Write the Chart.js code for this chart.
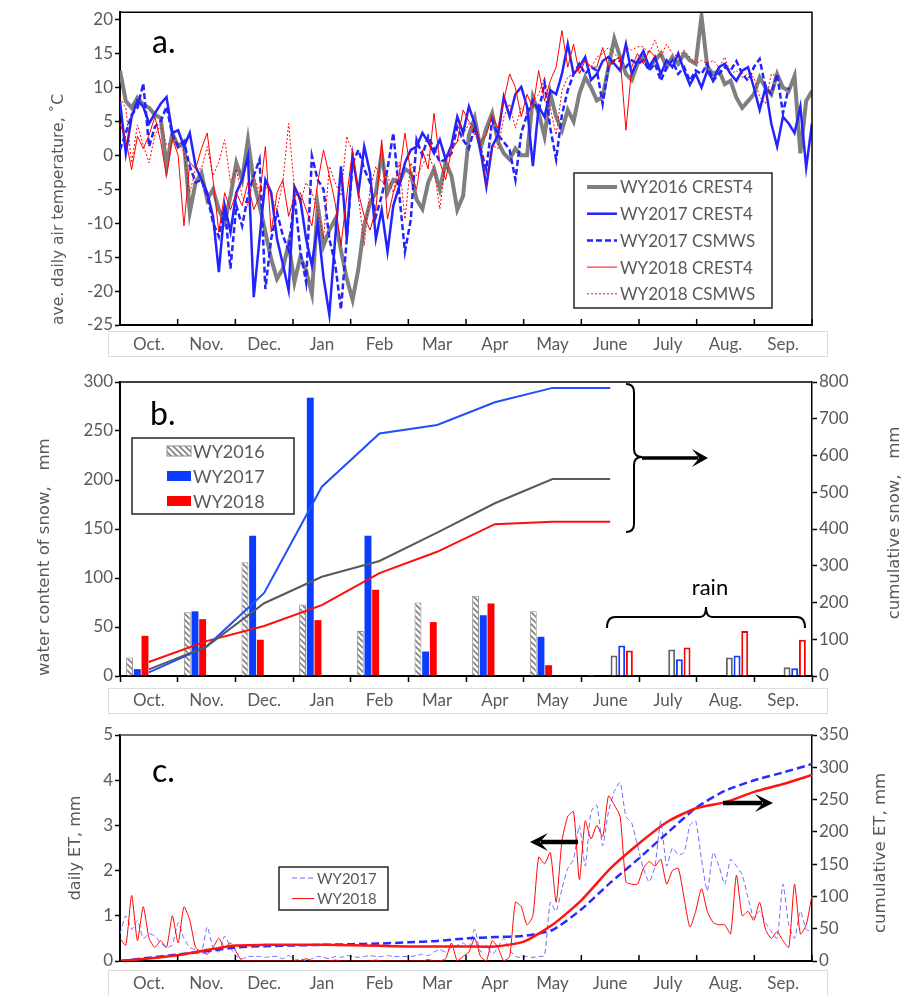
<!DOCTYPE html>
<html>
<head>
<meta charset="utf-8">
<script src="https://cdn.jsdelivr.net/npm/chart.js@4.4.1/dist/chart.umd.min.js"></script>
<style>
  body { margin: 0; background: #fff; }
  #wrap { position: relative; width: 906px; height: 996px; overflow: hidden; }
  #wrap canvas { position: absolute; left: 0; }
  .strip { position: absolute; border: 1px solid #dcdcdc; box-sizing: border-box; }
</style>
</head>
<body>
<div id="wrap">
  <div class="strip" style="left:108px;top:331px;width:720px;height:26px"></div>
  <div class="strip" style="left:108px;top:688px;width:720px;height:26px"></div>
  <div class="strip" style="left:108px;top:970px;width:720px;height:27px"></div>
  <canvas id="tempChart" width="906" height="357" style="top:0"></canvas>
  <canvas id="snowChart" width="906" height="356" style="top:357px"></canvas>
  <canvas id="etChart" width="906" height="283" style="top:713px"></canvas>
</div>
<script>
const months = ["Oct.", "Nov.", "Dec.", "Jan", "Feb", "Mar", "Apr", "May", "June", "July", "Aug.", "Sep."];

// panel a: ave. daily air temperature (10 readings per month)
const temp2016Crest4 = [
  12.5, 8, 7, 8.5, 7.5, 7, 6, 5.5, -1.6, 3.3,
  1.3, 2, -8.4, -4, -2.6, -6.5, -5, -8, -9.9, -6,
  -1.1, -3.6, 2.3, -4, -7.4, -11.3, -15.3, -18.2, -16.7, -13,
  -18.7, -15, -17, -20.4, -7.4, -13.3, -11, -9.4, -14, -18.2,
  -21.3, -16.7, -10.3, -7, -5.5, 0.3, -5.5, -3.6, -4, -2,
  -2.6, -6.5, -7.9, -4, -2, -5, -1, -3, -8, -6,
  3, 5.5, 1, 4, 6.2, 2, 0.3, -0.6, 1, 0,
  0, 8.6, 6.2, 2.8, 9.1, 5.7, 3.7, 6.7, 5, 9.1,
  11.5, 10, 8.1, 8.6, 13, 17.2, 14.5, 12, 11.1, 13.5,
  14.5, 13, 14, 15, 13, 14.5, 13.5, 15, 14, 13.5,
  20.5, 13, 12, 12.5, 10.5, 11, 8.5, 7, 8, 9,
  11.5, 10, 9, 12, 10, 9.5, 11.7, 0.3, 8, 9.5
];
const temp2017Crest4 = [
  8, 0.3, 5.7, 8.1, 7.2, 4.7, 6.2, 7.6, 8.6, 3.3,
  3.7, 1.3, 3.3, -1.6, -3.6, -5.5, -9, -17.2, -7.4, -11.3,
  -5.5, -3.6, -0.1, -20.9, -12.3, -3.6, -5.5, -12.3, -16, -19.9,
  -4.6, -6.5, -12.3, -16.2, -10, -18, -23.5, -12.3, -1.6, -12.3,
  -0.1, -5.5, 1.3, -2.6, -12.3, -8, -14.2, -7.4, -4.6, -1.1,
  0.8, 1.3, 3.3, 2, 0.3, 2.3, -0.6, 1.5, 5.7, 3.3,
  7.2, 4.7, 0.8, -4.6, 1.3, 3, 8.6, 5.7, 9, 10.1,
  7.2, -1.6, 7.2, 5.7, 9.6, 9, 12, 16.4, 12, 13,
  14.5, 11.1, 12, 13.9, 14.5, 13.5, 12.5, 16.4, 12, 13.9,
  15.4, 13, 14.5, 12, 14, 13, 15, 12.5, 10.4, 12,
  10, 12.5, 11, 13, 13.5, 12, 11, 12.5, 13, 10,
  6.7, 10, 4.7, 1.3, 5.7, 4.7, 3.3, 7.2, -1.8, 4.7
];
const temp2017Csmws = [
  0.8, 3.3, 6, 7, 10.6, 1.3, 4.2, 5, 7.2, 3,
  1.3, 2, -1.6, -4, -3.6, -6, -9.9, -12, -7.4, -16.7,
  -7.4, -10.4, -6, -3, -0.6, -19.7, -12.3, -8.4, -11.8, -14,
  -6, -14, -18.7, -0.1, -3.6, -5, -12.3, -16, -22.7, -12.3,
  -1.1, 0.8, -2, -4, -9, -6, -2, 3.3, -5.5, -14.2,
  -9.5, 2.3, 0, 2.8, 1, -1, -0.6, 0.3, 4.2, 2.3,
  1, 4.2, 1, -2.1, 5.2, 3, 2, 0.8, -3.6, 3.3,
  6, 8.1, 6.5, 10.6, 4, -0.6, 6, 9.6, 12, 13.5,
  12, 13, 12.5, 7.6, 13, 14, 13.9, 13, 14, 13.5,
  14, 12.5, 13.5, 11, 13, 14, 12, 13, 11, 12.5,
  12, 13.5, 11, 12, 13, 12.5, 13.9, 12, 11, 13,
  14.2, 10, 9.1, 12, 6.2, 10, null, null, null, null
];
const temp2018Crest4 = [
  4.7, 2.3, -2.1, 2.8, 1, 3, 5.7, 2, -3.1, 2.5,
  0, -10.4, -1, -2, 1, 3.3, -3.6, -11.3, -5.5, -8,
  -5.5, -7.4, -4, -8, -6, 1.3, -11.3, -5.5, -3.6, -9,
  -6, -5.5, -8, -10.4, -4, 0.8, -3, -7, -13.3, -6,
  0.8, -5.5, -9, -11, -8, 2.3, -9.4, -5.5, -3, 3.3,
  -2.6, -5, 0.8, -2, 6.2, -1, -3.6, 0.8, 2, 6.7,
  5, 4, 2, 3, 6, 4, 8.1, 12, 10, 5.7,
  9, 7, 12.5, 8, 11, 13, 18.4, 13, 16.4, 12,
  14, 13, 13, 15.9, 13, 14, 14.5, 3.7, 13, 15,
  13.5, 15.5, 14.5, null, null, null, null, null, null, null,
  null, null, null, null, null, null, null, null, null, null,
  null, null, null, null, null, null, null, null, null, null
];
const temp2018Csmws = [
  8.5, 7, -1.1, 4.5, 1.5, -1.1, 3, 4.5, 1.5, 2,
  2, 0.5, -5.5, -2, -2, 1.3, -3, -1, 2.3, -4,
  -2, -6, -7.4, -3, -5.5, -4.5, -6, -8, -4, 4.7,
  -5, -7, -4, -5.5, -8, -12.3, -1.6, -4, -6, 2.8,
  0.5, -6, -13.3, -5, -1.6, -4, -3, -5.5, -1, -9.4,
  -1.1, -3, -1.5, 0.3, -2, -7.9, -1.2, 1.3, 2, 3,
  4.7, 3, 2, -4.6, 1.5, 1, 5.7, 7.6, 4, 7,
  6, 8, 9, 11.5, 7, 3, 9.6, 11.5, 12, 13,
  14, 13, 14.5, 15, 15.9, 15, 14, 16, 15.5, 16,
  16, 15, 17, 14.5, 16.4, 15, 14.5, 15.5, 14.5, 13.5,
  14, 13.5, 14, 13, 14.5, 12, 12.5, 11.5, 12, 11.5,
  8.6, 7.6, 12, 11.7, null, null, null, null, null, null
];

// panel b: monthly water content of snow and rain (mm), cumulative snow (mm)
const snow2016 = [19, 65, 116, 73, 46, 75, 82, 66, 1, null, null, null];
const snow2017 = [7, 66, 143, 284, 143, 25, 62, 40, null, null, null, null];
const snow2018 = [41, 58, 37, 57, 88, 55, 74, 11, null, null, null, null];
const rain2016 = [null, null, null, null, null, null, null, null, 21, 27, 19, 9];
const rain2017 = [null, null, null, null, null, null, null, null, 31, 17, 21, 8];
const rain2018 = [null, null, null, null, null, null, null, null, 26, 29, 46, 37];
const cumSnow2016 = [18, 80, 198, 270, 313, 390, 470, 536, 536];
const cumSnow2017 = [10, 80, 226, 515, 660, 683, 745, 784, 784];
const cumSnow2018 = [38, 95, 136, 193, 280, 338, 413, 420, 420];

// panel c: daily ET (mm, 10 readings per month) and cumulative ET (mm, twice a month)
const et2017 = [
  0.6, 1.0, 0.7, 0.9, 0.5, 0.6, 0.55, 0.4, 0.3, 0.35,
  0.85, 0.5, 0.3, 0.25, 0.2, 0.75, 0.3, 0.2, 0.55, 0.3,
  0.1, 0.05, 0.1, 0.1, 0.1, 0.08, 0.1, 0.1, 0.05, 0.12,
  0.02, 0.05, 0, 0.05, 0.1, 0.08, 0.05, 0.1, 0.08, 0.12,
  0.1, 0.08, 0.1, 0.12, 0.1, 0.1, 0.12, 0.1, 0.1, 0.1,
  0.1, 0.12, 0.15, 0.12, 0.2, 0.25, 0.2, 0.3, 0.35, 0.4,
  0.3, 0.7, 0.2, 0.35, 0.15, 0.3, 0.5, 0.25, 0.1, 0.08,
  0.1, 0.08, 0.1, 0.12, 1.3, 1.1, 1.6, 2.05, 2.25, 3.0,
  2.1, 3.3, 3.45, 2.55, 3.3, 3.75, 3.95, 3.2, 3.05, 2.55,
  2.05, 1.75, 2.1, 3.1, 2.1, 2.5, 2.35, 2.4, 3.0, 3.1,
  2.25, 1.55, 2.4, 2.1, 1.7, 2.25, 2.1, 1.9, 1.4, 0.95,
  1.1, 0.85, 0.65, 0.5, 1.7, 0.8, 0.5, 1.1, 0.7, 0.65
];
const et2018 = [
  0.5, 0.35, 1.45, 0.45, 1.2, 0.5, 0.3, 0.45, 0.3, 1.0,
  0.4, 1.2, 0.9, 0.3, 0.2, 0.15, 0.3, 0.5, 0.3, 0.4,
  0.2, 0, 0, 0, 0, 0, 0, 0, 0, 0,
  0, 0, 0.05, 0, 0, 0, 0, 0.02, 0, 0,
  0, 0, 0, 0, 0.02, 0, 0, 0, 0, 0,
  0, 0, 0, 0.03, 0, 0, 0.05, 0.4, 0, 0.1,
  0.2, 0.5, 0.1, 0, 0.45, 0.3, 0, 0.1, 1.3, 1.2,
  0.8, 1.0, 2.3, 2.15, 2.4, 1.3, 2.65, 3.2, 3.3, 1.8,
  3.1, 2.7, 3.0, 2.75, 3.65, 3.45, 3.2, 1.75, 1.7, 1.7,
  2.05, 2.2, 2.1, 2.25, 1.7, 2.0, 2.05, 1.4, 0.75, 1.1,
  1.6, 1.1, 0.85, 0.8, 0.8, 0.6, 1.9, 1.0, 1.1, 0.9,
  1.3, 0.7, 0.5, 0.65, 0.45, 0.3, 1.7, 0.6, 0.8, 1.45
];
const cumEt2017 = [0, 5, 10, 15, 21, 23, 24, 25, 26, 27, 29, 31, 35, 37, 39, 48, 80, 121, 159, 199, 238, 264, 280, 292, 305];
const cumEt2018 = [0, 4, 9, 17, 24, 25, 25, 25, 24.5, 23.5, 22.5, 22.5, 22.5, 22.5, 30, 56, 94, 143, 182, 216, 237, 246, 262, 274, 288];

const tickFont = { family: "Lato, 'Open Sans', sans-serif", size: 17 };
const titleFamily = "'DejaVu Sans', Verdana, sans-serif";
const grayText = "#595959";

// spread the per-month readings over the 12 month slots of the x axis
const daily = arr => arr.map((v, i) => ({ x: i * 12 / (arr.length - 1), y: v }));
const halfMonth = arr => arr.map((v, i) => ({ x: i * 0.5, y: v }));

function monthAxis(height, pad) {
  return {
    type: "linear", min: 0, max: 12,
    afterBuildTicks: s => { s.ticks = months.map((m, i) => ({ value: i })).concat({ value: months.length }); },
    afterFit: s => { s.height = height; },
    ticks: { callback: v => months[v] || "", labelOffset: 28.8, padding: pad, autoSkip: false, maxRotation: 0, font: tickFont, color: grayText },
    grid: { drawOnChartArea: false, drawTicks: false },
    border: { display: true, color: "#000", width: 2 }
  };
}

function valueAxis(side, min, max, step, title) {
  return {
    position: side, min: min, max: max,
    afterBuildTicks: s => {
      const list = [];
      for (let v = Math.ceil(s.min / step) * step; v <= s.max + 1e-9; v += step) list.push({ value: v });
      s.ticks = list;
    },
    afterFit: s => { s.width = side === "left" ? 120 : 94; },
    ticks: { stepSize: step, font: tickFont, color: grayText, padding: 2 },
    grid: { drawOnChartArea: false, drawTicks: true, tickLength: 5, tickColor: "#000", tickWidth: 1.5 },
    border: { display: true, color: "#000", width: side === "left" ? 2 : 1.5 },
    title: title ? Object.assign({ display: true, color: grayText }, title) : { display: false }
  };
}

// vertical title read bottom-to-top, as on the right-hand axes of the figure
function sideTitle(id, text, x, shift, size) {
  return {
    id: id,
    afterDraw(chart) {
      const ctx = chart.ctx, a = chart.chartArea;
      ctx.save();
      ctx.translate(x, (a.top + a.bottom) / 2 + shift);
      ctx.rotate(-Math.PI / 2);
      ctx.font = size + "px " + titleFamily;
      ctx.fillStyle = grayText;
      ctx.textAlign = "center";
      ctx.textBaseline = "middle";
      ctx.fillText(text, 0, 0);
      ctx.restore();
    }
  };
}

// frame top/right edge, inward month ticks, panel letter
function framePlugin(id, cfg) {
  return {
    id: id,
    afterDatasetsDraw(chart) {
      const ctx = chart.ctx, a = chart.chartArea;
      ctx.save();
      ctx.strokeStyle = cfg.color;
      ctx.lineWidth = 1.5;
      ctx.beginPath();
      ctx.moveTo(a.left, a.top);
      ctx.lineTo(a.right, a.top);
      if (cfg.right) ctx.lineTo(a.right, a.bottom);
      ctx.stroke();
      if (cfg.innerTicks) {
        const sx = chart.scales.x;
        ctx.strokeStyle = "#000";
        sx.ticks.forEach(t => {
          const px = sx.getPixelForValue(t.value);
          ctx.beginPath();
          ctx.moveTo(px, a.bottom);
          ctx.lineTo(px, a.bottom - cfg.innerTicks);
          ctx.stroke();
        });
      }
      ctx.fillStyle = "#000";
      ctx.font = "32px Lato, sans-serif";
      ctx.textBaseline = "alphabetic";
      ctx.fillText(cfg.letter, cfg.lx, cfg.ly);
      ctx.restore();
    }
  };
}

function boxLegend(id, cfg) {
  return {
    id: id,
    afterDraw(chart) {
      const ctx = chart.ctx;
      ctx.save();
      ctx.fillStyle = "#fff";
      ctx.fillRect(cfg.x, cfg.y, cfg.w, cfg.h);
      ctx.strokeStyle = "#262626";
      ctx.lineWidth = 1.5;
      ctx.strokeRect(cfg.x, cfg.y, cfg.w, cfg.h);
      ctx.font = cfg.font;
      ctx.textBaseline = "middle";
      cfg.items.forEach((di, k) => {
        const ds = chart.data.datasets[di];
        const y = cfg.rowY + k * cfg.rowGap;
        if (cfg.sample === "line") {
          ctx.beginPath();
          ctx.setLineDash(ds.borderDash || []);
          ctx.strokeStyle = ds.borderColor;
          ctx.lineWidth = ds.borderWidth;
          ctx.moveTo(cfg.sx, y);
          ctx.lineTo(cfg.sx + cfg.sw, y);
          ctx.stroke();
          ctx.setLineDash([]);
        } else {
          ctx.fillStyle = ds.backgroundColor;
          ctx.fillRect(cfg.sx, y - cfg.sh / 2, cfg.sw, cfg.sh);
          if (ds.borderWidth) {
            ctx.strokeStyle = ds.borderColor;
            ctx.lineWidth = 1;
            ctx.strokeRect(cfg.sx, y - cfg.sh / 2, cfg.sw, cfg.sh);
          }
        }
        ctx.fillStyle = grayText;
        ctx.fillText(ds.label, cfg.tx, y + 1);
      });
      ctx.restore();
    }
  };
}

function arrow(ctx, x1, x2, y, shaft, headLen, headHalf) {
  const dir = Math.sign(x2 - x1);
  ctx.lineWidth = shaft;
  ctx.beginPath();
  ctx.moveTo(x1, y);
  ctx.lineTo(x2 - dir * headLen * 0.6, y);
  ctx.stroke();
  ctx.beginPath();
  ctx.moveTo(x2, y);
  ctx.lineTo(x2 - dir * headLen, y - headHalf);
  ctx.lineTo(x2 - dir * headLen * 0.55, y);
  ctx.lineTo(x2 - dir * headLen, y + headHalf);
  ctx.closePath();
  ctx.fill();
}

// ---------- panel a ----------
new Chart(document.getElementById("tempChart"), {
  type: "line",
  data: {
    datasets: [
      { label: "WY2016 CREST4", data: daily(temp2016Crest4), borderColor: "#7f7f7f", borderWidth: 4, order: 5 },
      { label: "WY2017 CREST4", data: daily(temp2017Crest4), borderColor: "#2323ff", borderWidth: 2.5, order: 4 },
      { label: "WY2017 CSMWS", data: daily(temp2017Csmws), borderColor: "#2323ff", borderWidth: 2.5, borderDash: [6, 3], order: 3 },
      { label: "WY2018 CREST4", data: daily(temp2018Crest4), borderColor: "#ff0000", borderWidth: 1, order: 2 },
      { label: "WY2018 CSMWS", data: daily(temp2018Csmws), borderColor: "#ff0000", borderWidth: 1, borderDash: [2, 2], order: 1 }
    ]
  },
  options: {
    responsive: false, animation: false, devicePixelRatio: 1,
    layout: { padding: { top: 10, right: 94, left: 0, bottom: 0 } },
    elements: { point: { radius: 0 }, line: { tension: 0, fill: false } },
    plugins: { legend: { display: false }, tooltip: { enabled: false } },
    scales: {
      x: monthAxis(32, 9),
      y: valueAxis("left", -25, 21.1, 5, { text: "ave. daily air temperature, ˚C", align: "start", padding: { top: 50 }, font: { family: titleFamily, size: 15.5 } })
    }
  },
  plugins: [
    framePlugin("frameA", { color: "#000", right: true, innerTicks: 6, letter: "a.", lx: 152, ly: 53 }),
    boxLegend("legendA", { x: 574, y: 173, w: 198, h: 135, rowY: 187, rowGap: 26.7, sample: "line", sx: 587, sw: 30, tx: 620, font: "17px Lato, sans-serif", items: [0, 1, 2, 3, 4] })
  ]
});

// ---------- panel b ----------
const snowCanvas = document.getElementById("snowChart");
const hatchTile = document.createElement("canvas");
hatchTile.width = 6; hatchTile.height = 6;
const hg = hatchTile.getContext("2d");
hg.fillStyle = "#fff"; hg.fillRect(0, 0, 6, 6);
hg.strokeStyle = "#808080"; hg.lineWidth = 1.6;
hg.beginPath();
hg.moveTo(-1, -1); hg.lineTo(7, 7);
hg.moveTo(-4, 2); hg.lineTo(4, 10);
hg.moveTo(2, -4); hg.lineTo(10, 4);
hg.stroke();
const hatch = snowCanvas.getContext("2d").createPattern(hatchTile, "repeat");

new Chart(snowCanvas, {
  data: {
    labels: months,
    datasets: [
      { type: "line", label: "WY2016 cumulative", data: cumSnow2016, yAxisID: "y1", borderColor: "#595959", borderWidth: 2, order: 0 },
      { type: "line", label: "WY2017 cumulative", data: cumSnow2017, yAxisID: "y1", borderColor: "#1f4fff", borderWidth: 2, order: 0 },
      { type: "line", label: "WY2018 cumulative", data: cumSnow2018, yAxisID: "y1", borderColor: "#ff0d0d", borderWidth: 2, order: 0 },
      { type: "bar", label: "WY2016", data: snow2016, backgroundColor: hatch, borderColor: "#8c8c8c", borderWidth: 1, order: 1 },
      { type: "bar", label: "WY2017", data: snow2017, backgroundColor: "#0b3dff", borderWidth: 0, order: 1 },
      { type: "bar", label: "WY2018", data: snow2018, backgroundColor: "#ff0000", borderWidth: 0, order: 1 },
      { type: "bar", label: "WY2016 rain", data: rain2016, backgroundColor: "#fff", borderColor: "#666666", borderWidth: 2, order: 1 },
      { type: "bar", label: "WY2017 rain", data: rain2017, backgroundColor: "#fff", borderColor: "#0b3dff", borderWidth: 2, order: 1 },
      { type: "bar", label: "WY2018 rain", data: rain2018, backgroundColor: "#fff", borderColor: "#ff0000", borderWidth: 2, order: 1 }
    ]
  },
  options: {
    responsive: false, animation: false, devicePixelRatio: 1,
    layout: { padding: { top: 25, right: 0, left: 0, bottom: 0 } },
    elements: { point: { radius: 0 }, line: { tension: 0, fill: false } },
    datasets: { bar: { categoryPercentage: 0.8, barPercentage: 0.9 } },
    plugins: { legend: { display: false }, tooltip: { enabled: false } },
    scales: {
      x: {
        type: "category", offset: true,
        afterFit: s => { s.height = 37; },
        ticks: { padding: 8, font: tickFont, color: grayText, autoSkip: false, maxRotation: 0 },
        grid: { offset: true, drawOnChartArea: false, drawTicks: true, tickLength: 6, tickColor: "#000", tickWidth: 1.5 },
        border: { display: true, color: "#000", width: 2 }
      },
      y: valueAxis("left", 0, 300, 50, { text: "water content of snow,   mm", align: "start", padding: { top: 35 }, font: { family: titleFamily, size: 16.5 } }),
      y1: valueAxis("right", 0, 800, 100, null)
    }
  },
  plugins: [
    framePlugin("frameB", { color: "#000", right: false, innerTicks: 0, letter: "b.", lx: 150, ly: 68 }),
    sideTitle("titleB", "cumulative snow,   mm", 895, -6, 16.5),
    boxLegend("legendB", { x: 132, y: 81, w: 162, h: 76, rowY: 94, rowGap: 25, sample: "rect", sx: 167, sw: 24, sh: 10, tx: 193, font: "18px Lato, sans-serif", items: [3, 4, 5] }),
    {
      id: "notesB",
      afterDraw(chart) {
        const ctx = chart.ctx;
        ctx.save();
        ctx.strokeStyle = "#000";
        ctx.fillStyle = "#000";
        ctx.lineWidth = 2;
        // curly brace around the cumulative line ends
        const bx = 626, top = 27, bot = 175, mid = 100, d = 8;
        ctx.beginPath();
        ctx.moveTo(bx, top);
        ctx.quadraticCurveTo(bx + d, top, bx + d, top + d);
        ctx.lineTo(bx + d, mid - d);
        ctx.quadraticCurveTo(bx + d, mid, bx + 2 * d, mid);
        ctx.quadraticCurveTo(bx + d, mid, bx + d, mid + d);
        ctx.lineTo(bx + d, bot - d);
        ctx.quadraticCurveTo(bx + d, bot, bx, bot);
        ctx.stroke();
        arrow(ctx, bx + 2 * d, 708, mid + 1, 3.5, 16, 9);
        // rain brace
        const lx = 607, rx = 805, hy = 260, tipX = 706;
        ctx.lineWidth = 2;
        ctx.beginPath();
        ctx.moveTo(lx, hy + 11);
        ctx.quadraticCurveTo(lx, hy, lx + 8, hy);
        ctx.lineTo(tipX - 6, hy);
        ctx.quadraticCurveTo(tipX, hy, tipX, hy - 10);
        ctx.quadraticCurveTo(tipX, hy, tipX + 6, hy);
        ctx.lineTo(rx - 8, hy);
        ctx.quadraticCurveTo(rx, hy, rx, hy + 11);
        ctx.stroke();
        ctx.font = "22px Lato, sans-serif";
        ctx.textAlign = "center";
        ctx.textBaseline = "alphabetic";
        ctx.fillText("rain", 710, 238);
        ctx.restore();
      }
    }
  ]
});

// ---------- panel c ----------
new Chart(document.getElementById("etChart"), {
  type: "line",
  data: {
    datasets: [
      { label: "WY2017", data: daily(et2017), yAxisID: "y", borderColor: "#6b6bff", borderWidth: 1, borderDash: [5, 3], order: 3 },
      { label: "WY2018", data: daily(et2018), yAxisID: "y", borderColor: "#ff0000", borderWidth: 1, order: 2 },
      { label: "WY2017 cumulative", data: halfMonth(cumEt2017), yAxisID: "y1", borderColor: "#2a2aff", borderWidth: 2.5, borderDash: [8, 4], order: 1 },
      { label: "WY2018 cumulative", data: halfMonth(cumEt2018), yAxisID: "y1", borderColor: "#ff1414", borderWidth: 2.5, order: 0 }
    ]
  },
  options: {
    responsive: false, animation: false, devicePixelRatio: 1,
    layout: { padding: { top: 22, right: 0, left: 0, bottom: 0 } },
    elements: { point: { radius: 0 }, line: { tension: 0.2, fill: false } },
    plugins: { legend: { display: false }, tooltip: { enabled: false } },
    scales: {
      x: monthAxis(35, 12),
      y: valueAxis("left", 0, 5, 1, { text: "daily ET, mm", padding: { top: 66 }, font: { family: titleFamily, size: 16 } }),
      y1: valueAxis("right", 0, 350, 50, null)
    }
  },
  plugins: [
    framePlugin("frameC", { color: "#404040", right: false, innerTicks: 6, letter: "c.", lx: 152, ly: 69 }),
    sideTitle("titleC", "cumulative ET, mm", 881, 5, 16.5),
    boxLegend("legendC", { x: 279, y: 154, w: 109, h: 43, rowY: 165, rowGap: 20.6, sample: "line", sx: 292, sw: 22, tx: 317, font: "15px Lato, sans-serif", items: [0, 1] }),
    {
      id: "notesC",
      afterDraw(chart) {
        const ctx = chart.ctx;
        ctx.save();
        ctx.strokeStyle = "#000";
        ctx.fillStyle = "#000";
        arrow(ctx, 578, 530, 129, 4.5, 18, 9);
        arrow(ctx, 723, 773, 90, 4.5, 18, 9);
        ctx.restore();
      }
    }
  ]
});
</script>
</body>
</html>
